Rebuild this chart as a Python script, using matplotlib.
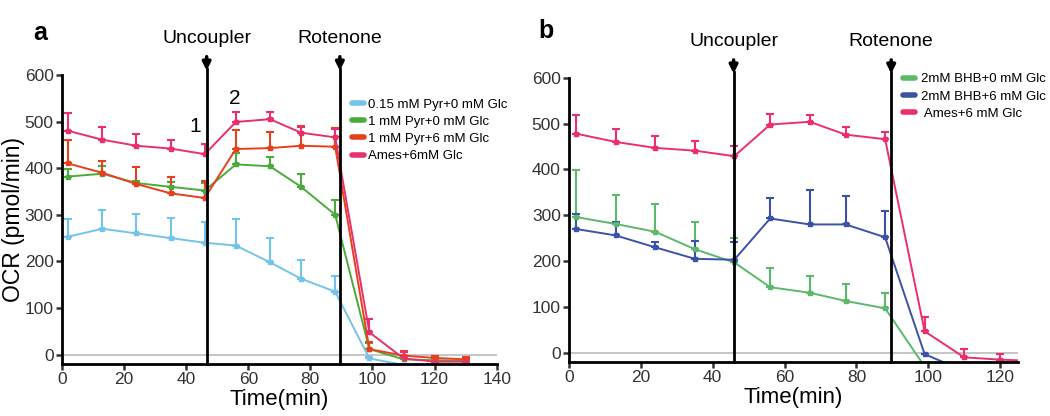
import numpy as np
import matplotlib.pyplot as plt
from matplotlib.lines import Line2D

plt.rcParams['font.family'] = ['Liberation Sans', 'DejaVu Sans']

# time points (min)
time_a = [2, 13, 24, 35, 46, 56, 67, 77, 88, 99, 110, 120, 130]
time_b = [2, 13, 24, 35, 46, 56, 67, 77, 88, 99, 110, 120, 130]

# panel a series: mean and upper error bar end
pyr015_0 = [253, 270, 260, 250, 240, 234, 198, 163, 135, -8, -22, -25, -25]
pyr015_0_top = [291, 311, 301, 293, 284, 291, 250, 204, 168, -5, -20, -22, -22]
pyr1_0 = [382, 388, 368, 360, 352, 408, 404, 360, 300, 12, -10, -12, -13]
pyr1_0_top = [398, 405, 373, 370, 368, 432, 424, 388, 331, 25, -5, -7, -8]
pyr1_6 = [410, 390, 366, 346, 336, 441, 443, 448, 446, 12, -2, -7, -10]
pyr1_6_top = [460, 415, 402, 380, 372, 482, 478, 488, 487, 27, 7, -2, -5]
ames_a = [480, 461, 448, 442, 430, 499, 505, 476, 466, 48, -8, -15, -15]
ames_a_top = [518, 488, 473, 460, 452, 520, 520, 490, 485, 77, 5, -5, -8]

# panel b series
bhb_0 = [296, 281, 264, 226, 197, 143, 131, 113, 97, -30, -40, -40, -40]
bhb_0_top = [398, 345, 325, 285, 250, 185, 168, 150, 130, -30, -40, -40, -40]
bhb_6 = [270, 256, 230, 205, 203, 293, 280, 280, 252, -3, -40, -40, -40]
bhb_6_top = [303, 285, 242, 243, 242, 338, 355, 342, 310, -3, -40, -40, -40]
ames_b = [478, 460, 447, 441, 429, 498, 504, 476, 466, 47, -10, -15, -18]
ames_b_top = [518, 488, 473, 461, 452, 520, 519, 492, 482, 78, 8, -2, -10]

fig = plt.figure(figsize=(10.5, 4.16), dpi=100)
ax1 = fig.add_axes([0.059, 0.125, 0.414, 0.695])
ax2 = fig.add_axes([0.542, 0.13, 0.4275, 0.683])


def draw_series(ax, t, mean, top, color):
    mean = np.array(mean, dtype=float)
    top = np.array(top, dtype=float)
    err = [np.zeros_like(mean), np.clip(top - mean, 0, None)]
    ax.errorbar(t, mean, yerr=err, color=color, lw=1.4, marker='s', ms=3.5,
                capsize=3, elinewidth=1.5, capthick=1.5)
    return Line2D([], [], color=color, lw=4, solid_capstyle='round')


def style_axes(ax, xmax, xticks):
    ax.set_xlim(0, xmax)
    ax.set_ylim(-20, 600)
    ax.set_xticks(xticks)
    ax.set_yticks([0, 100, 200, 300, 400, 500, 600])
    ax.spines['top'].set_visible(False)
    ax.spines['right'].set_visible(False)
    for s in ['left', 'bottom']:
        ax.spines[s].set_linewidth(2)
    ax.tick_params(width=1.8, length=4, labelsize=12.5, colors='#333333',
                   pad=2)
    ax.axhline(0, color='#bbbbbb', lw=1.2, zorder=0)
    ax.set_xlabel('Time(min)', fontsize=16, labelpad=1)


def injection(ax, x, name):
    ax.plot([x, x], [-20, 612], color='black', lw=2, clip_on=False, zorder=5)
    ax.annotate('', xy=(x, 603), xytext=(x, 645), xycoords='data',
                arrowprops=dict(arrowstyle='-|>', color='black', lw=2.5,
                                mutation_scale=12), annotation_clip=False)
    ax.text(x, 660, name, ha='center', va='bottom', fontsize=14)


labels_a = ['0.15 mM Pyr+0 mM Glc', '1 mM Pyr+0 mM Glc', '1 mM Pyr+6 mM Glc',
            'Ames+6mM Glc']
handles_a = [
    draw_series(ax1, time_a, pyr015_0, pyr015_0_top, '#72c4ec'),
    draw_series(ax1, time_a, pyr1_0, pyr1_0_top, '#4aab3c'),
    draw_series(ax1, time_a, pyr1_6, pyr1_6_top, '#e8401c'),
    draw_series(ax1, time_a, ames_a, ames_a_top, '#e8306e'),
]
style_axes(ax1, 140, range(0, 141, 20))
ax1.set_ylabel('OCR (pmol/min)', fontsize=16.5, labelpad=0)
injection(ax1, 46.6, 'Uncoupler')
injection(ax1, 89.5, 'Rotenone')
ax1.text(43, 470, '1', fontsize=15, ha='center', va='bottom')
ax1.text(55.5, 530, '2', fontsize=15, ha='center', va='bottom')
ax1.legend(handles_a, labels_a, loc='upper left', bbox_to_anchor=(0.655, 0.937),
           frameon=False, fontsize=9.5, handlelength=0.9, handletextpad=0.3,
           labelspacing=0.38, borderaxespad=0)

labels_b = ['2mM BHB+0 mM Glc', '2mM BHB+6 mM Glc', ' Ames+6 mM Glc']
handles_b = [
    draw_series(ax2, time_b, bhb_0, bhb_0_top, '#5cb86a'),
    draw_series(ax2, time_b, bhb_6, bhb_6_top, '#3c52a8'),
    draw_series(ax2, time_b, ames_b, ames_b_top, '#ec2f6c'),
]
style_axes(ax2, 125, range(0, 121, 20))
injection(ax2, 45.8, 'Uncoupler')
injection(ax2, 89.7, 'Rotenone')
ax2.legend(handles_b, labels_b, loc='upper left', bbox_to_anchor=(0.733, 1.035),
           frameon=False, fontsize=9.5, handlelength=0.9, handletextpad=0.4,
           labelspacing=0.38, borderaxespad=0)

fig.text(0.038, 0.92, 'a', fontsize=18, fontweight='bold', ha='center',
         va='center')
fig.text(0.52, 0.925, 'b', fontsize=18, fontweight='bold', ha='center',
         va='center')

fig.savefig('out.png', dpi=100)
